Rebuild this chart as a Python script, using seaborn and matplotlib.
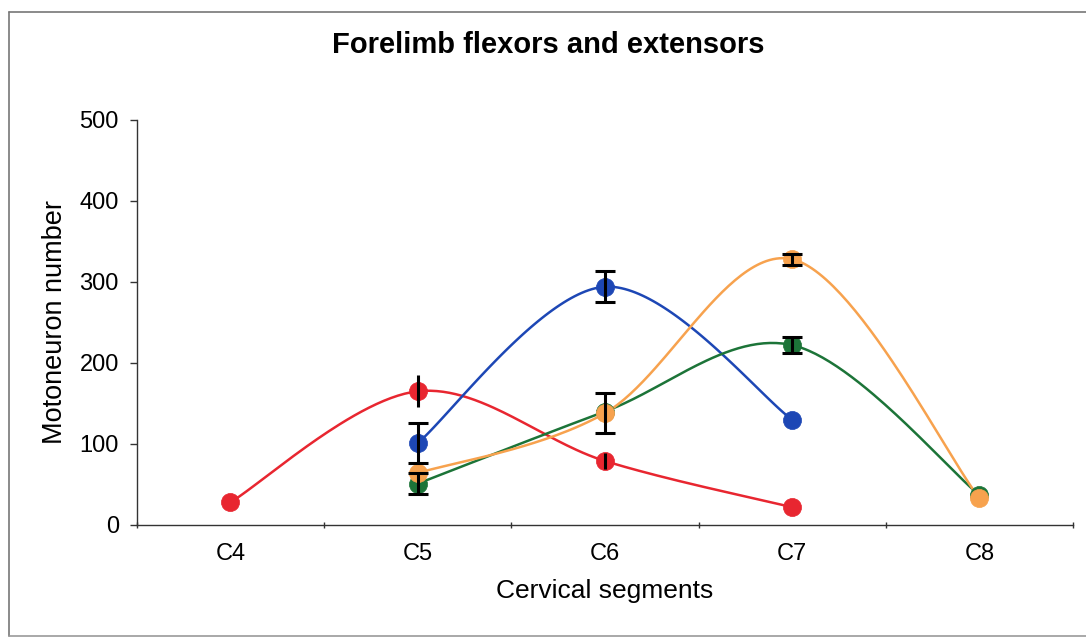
#!/usr/bin/env python3
"""Forelimb flexors and extensors — motoneuron counts per cervical segment."""

import numpy as np
import pandas as pd
import matplotlib
matplotlib.use("Agg")
import matplotlib.pyplot as plt
import seaborn as sns

# ── data ────────────────────────────────────────────────────────────────
segments = ["C4", "C5", "C6", "C7", "C8"]

red_x = [0, 1, 2, 3]
red_y = [28, 165, 79, 22]
red_err = [0, 20, 10, 0]

blue_x = [1, 2, 3]
blue_y = [101, 294, 130]
blue_err = [25, 19, 0]

orange_x = [1, 2, 3, 4]
orange_y = [64, 138, 328, 33]
orange_err = [0, 25, 7, 0]

green_x = [1, 2, 3, 4]
green_y = [51, 140, 222, 37]
green_err = [13, 0, 10, 0]

colors = {"red": "#e82630", "blue": "#1d47b5", "orange": "#f7a24e", "green": "#1c7438"}

sns.set_theme(style="white")
plt.rcParams['font.family'] = ['Liberation Sans', 'DejaVu Sans']
plt.rcParams['text.color'] = 'black'
plt.rcParams['axes.labelcolor'] = 'black'
plt.rcParams['xtick.color'] = 'black'
plt.rcParams['ytick.color'] = 'black'


def smooth(xs, ys, n=60):
    """Bezier smoothing like Excel's smoothed line."""
    p = np.column_stack([xs, ys]).astype(float)
    p = np.vstack([p[0], p, p[-1]])
    out = []
    t = np.linspace(0, 1, n)
    for i in range(1, len(p) - 2):
        p0, p1, p2, p3 = p[i - 1], p[i], p[i + 1], p[i + 2]
        c1 = p1 + (p2 - p0) / 6
        c2 = p2 - (p3 - p1) / 6
        seg = ((1 - t) ** 3)[:, None] * p1 + (3 * (1 - t) ** 2 * t)[:, None] * c1 \
            + (3 * (1 - t) * t ** 2)[:, None] * c2 + (t ** 3)[:, None] * p2
        out.append(seg)
    return np.vstack(out)


fig = plt.figure(figsize=(10.86, 6.41), dpi=100)
ax = fig.add_axes([0.126, 0.181, 0.862, 0.632])

series = [
    ("red", red_x, red_y, red_err),
    ("blue", blue_x, blue_y, blue_err),
    ("green", green_x, green_y, green_err),
    ("orange", orange_x, orange_y, orange_err),
]

for name, xs, ys, errs in series:
    curve = smooth(xs, ys)
    df = pd.DataFrame({"x": curve[:, 0], "y": curve[:, 1]})
    sns.lineplot(data=df, x="x", y="y", sort=False, estimator=None,
                 color=colors[name], linewidth=1.8, ax=ax, zorder=2)

for name, xs, ys, errs in series:
    sns.scatterplot(x=xs, y=ys, color=colors[name], s=170, edgecolor=colors[name],
                    linewidth=0.5, ax=ax, zorder=3)
    e = np.array(errs, dtype=float)
    m = e > 0
    # the red series has plain bars without caps
    cap = 0 if name == "red" else 7
    ax.errorbar(np.array(xs)[m], np.array(ys)[m], yerr=e[m], fmt="none",
                ecolor="black", elinewidth=2.2, capsize=cap, capthick=2.2, zorder=4)

ax.set_xlim(-0.5, 4.5)
ax.set_ylim(0, 500)
ax.set_yticks([0, 100, 200, 300, 400, 500])
ax.set_xticks(range(len(segments)))
ax.set_xticklabels(segments)
ax.set_xticks([-0.5, 0.5, 1.5, 2.5, 3.5, 4.5], minor=True)
ax.tick_params(axis="x", which="major", length=0, pad=13, labelsize=17)
ax.tick_params(axis="x", which="minor", length=5, width=1, color="#333333", direction="inout")
ax.tick_params(axis="y", length=5, width=1, color="#333333", direction="out", labelsize=17, pad=8)
ax.tick_params(bottom=True, left=True, which="both")

for side in ["top", "right"]:
    ax.spines[side].set_visible(False)
for side in ["left", "bottom"]:
    ax.spines[side].set_color("#333333")
    ax.spines[side].set_linewidth(1)

ax.set_xlabel("Cervical segments", fontsize=19, labelpad=10)
ax.set_ylabel("Motoneuron number", fontsize=19.5, labelpad=8)
ax.grid(False)

fig.text(0.505, 0.93, "Forelimb flexors and extensors", ha="center", va="center",
         fontsize=21, fontweight="bold")

# chart-area border
fig.add_artist(plt.Line2D([0.008, 0.008], [0.008, 0.982], color="#777777", lw=1.2))
fig.add_artist(plt.Line2D([0.008, 1.0], [0.982, 0.982], color="#777777", lw=1.2))
fig.add_artist(plt.Line2D([0.008, 1.0], [0.008, 0.008], color="#999999", lw=1.2))

plt.savefig("out.png", dpi=100)
plt.close()
